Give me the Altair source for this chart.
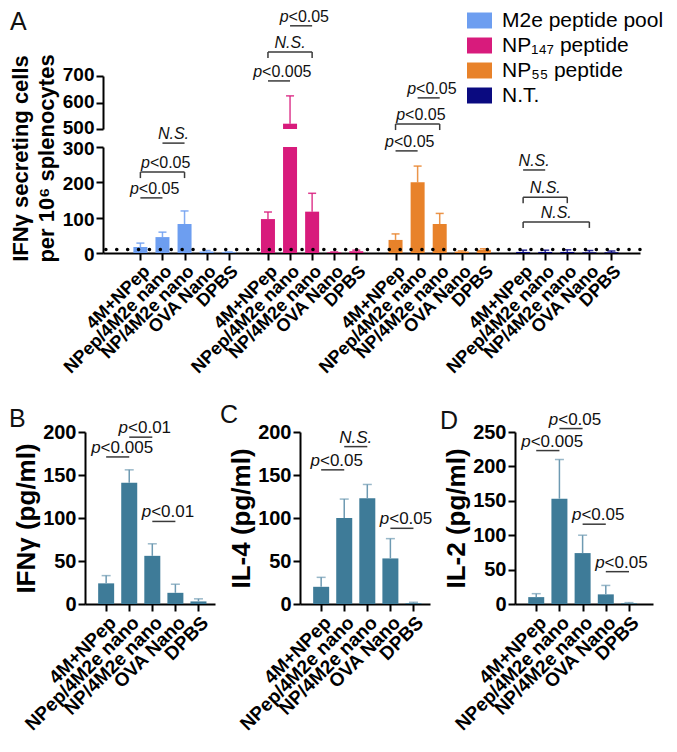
import altair as alt
import pandas as pd

FONT = "Liberation Sans"
INK = "#111111"
ANN = "#3a3a3a"

# ---------------- Panel A data ----------------
series = ["M2e peptide pool", "NP₁₄₇ peptide", "NP₅₅ peptide", "N.T."]
series_colors = ["#6d9ef0", "#d81b7c", "#e8822a", "#0a0a80"]
treatments = ["4M+NPep", "NPep/4M2e nano", "NP/4M2e nano", "OVA Nano", "DPBS"]

m2e_mean = [17, 45, 82, 4, 2]
m2e_upper = [28, 59, 119, 7, 3]
np147_mean = [96, 520, 117, 2, 5]
np147_upper = [116, 625, 169, 3, 8]
np55_mean = [37, 200, 82, 4, 9]
np55_upper = [54, 246, 112, 6, 12]
nt_mean = [3, 3, 3, 2, 2]
nt_upper = [8, 8, 9, 7, 6]
detection_limit = [10]

# annotations of panel A (group, from bar, to bar, level, kind, text)
ann_a_group = [0, 0, 0, 1, 1, 1, 2, 2, 2, 3, 3, 3]
ann_a_from = [0, 0, 1, 0, 0, 1, 1, 0, 0, 0, 0, 0]
ann_a_to = [1, 2, 2, 1, 2, 2, 2, 2, 1, 1, 2, 3]
ann_a_level = [156, 229, 311, 487, 569, 643, 439, 365, 289, 235, 158, 88]
ann_a_kind = ["line", "bracket", "line", "line", "bracket", "line",
              "line", "bracket", "line", "line", "bracket", "bracket"]
ann_a_text = ["p<0.05", "p<0.05", "N.S.", "p<0.005", "N.S.", "p<0.05",
              "p<0.05", "p<0.05", "p<0.05", "N.S.", "N.S.", "N.S."]

# ---------------- Panels B-D data ----------------
ifng_mean = [24, 141, 56, 13, 3]
ifng_upper = [33, 156, 70, 23, 6]
il4_mean = [20, 100, 123, 53, 1]
il4_upper = [31, 122, 139, 76, 2]
il2_mean = [10, 153, 74, 14, 1]
il2_upper = [15, 210, 100, 27, 2]

ann_b = dict(x1=[0, 1, 2], x2=[1, 2, 3], level=[171, 194, 96],
             text=["p<0.005", "p<0.01", "p<0.01"])
ann_c = dict(x1=[0, 1, 3], x2=[1, 2, 4], level=[156, 183, 88],
             text=["p<0.05", "N.S.", "p<0.05"])
ann_d = dict(x1=[0, 1, 2, 3], x2=[1, 2, 3, 4], level=[223, 255, 116, 47],
             text=["p<0.005", "p<0.05", "p<0.05", "p<0.05"])

CYTO_COLOR = "#3e7b98"
CYTO_ERR = "#6e9ab2"

# ---------------- helpers ----------------
SLOT = 9
GROUP_STEP = 52
CHAR_W = {"<": 0.584, "0": 0.556, ".": 0.278, "5": 0.556, "1": 0.556}


def label_expr(index_expr):
    out = "''"
    for i in reversed(range(len(treatments))):
        out = f"({index_expr}) == {i} ? '{treatments[i]}' : {out}"
    return out


def annotation_layers(ann, xs, ys, xa, ya, fs, ppu, leg):
    ann = ann.copy()
    if "kind" not in ann:
        ann["kind"] = "line"
    ann["xc"] = (ann["x1"] + ann["x2"]) / 2
    ann["rest"] = ann["text"].str[1:]
    rest_w = ann["rest"].map(lambda s: sum(CHAR_W.get(c, 0.556) for c in s))
    ann["xa"] = ann["xc"] + (3 + (0.556 - rest_w) / 2 * fs) / ppu
    is_p = ann["text"].str.startswith("p")
    layers = [
        alt.Chart(ann).mark_rule(color=ANN, strokeWidth=1.5).encode(
            x=alt.X("x1:Q", scale=xs, axis=xa), x2="x2:Q",
            y=alt.Y("level:Q", scale=ys, axis=ya))
    ]
    br = ann[ann["kind"] == "bracket"]
    if len(br):
        legs = pd.DataFrame({
            "x": list(br["x1"]) + list(br["x2"]),
            "top": list(br["level"]) * 2,
        })
        legs["bot"] = legs["top"] - leg
        layers.append(alt.Chart(legs).mark_rule(color=ANN, strokeWidth=1.5).encode(
            x=alt.X("x:Q", scale=xs, axis=xa),
            y=alt.Y("top:Q", scale=ys, axis=ya), y2="bot:Q"))
    pdf = ann[is_p]
    if len(pdf):
        layers.append(alt.Chart(pdf).mark_text(
            text="p", font=FONT, fontSize=fs, fontStyle="italic", align="right",
            baseline="alphabetic", dy=-4, color=INK).encode(
            x=alt.X("xa:Q", scale=xs, axis=xa), y=alt.Y("level:Q", scale=ys, axis=ya)))
        layers.append(alt.Chart(pdf).mark_text(
            font=FONT, fontSize=fs, align="left", baseline="alphabetic", dy=-4,
            color=INK).encode(
            x=alt.X("xa:Q", scale=xs, axis=xa), y=alt.Y("level:Q", scale=ys, axis=ya),
            text="rest:N"))
    ndf = ann[~is_p]
    if len(ndf):
        layers.append(alt.Chart(ndf).mark_text(
            font=FONT, fontSize=fs, fontStyle="italic", align="center",
            baseline="alphabetic", dy=-4, color=INK).encode(
            x=alt.X("xc:Q", scale=xs, axis=xa), y=alt.Y("level:Q", scale=ys, axis=ya),
            text="text:N"))
    return layers


def letter(ch, x, y):
    return alt.Chart(pd.DataFrame({"t": [ch]})).mark_text(
        font=FONT, fontSize=25, align="left", baseline="alphabetic", color=INK
    ).encode(text="t:N", x=alt.value(x), y=alt.value(y))


# ---------------- Panel A ----------------
rows = []
for s, (name, means, uppers) in enumerate(zip(
        series, [m2e_mean, np147_mean, np55_mean, nt_mean],
        [m2e_upper, np147_upper, np55_upper, nt_upper])):
    for t in range(len(treatments)):
        rows.append({"series": name, "pos": s * GROUP_STEP + t * SLOT,
                     "mean": means[t], "upper": uppers[t]})
dfA = pd.DataFrame(rows)
positions = [int(p) for p in dfA["pos"]]

xsA = alt.Scale(domain=[-13.2, 201.6], nice=False, zero=False)
ys_low = alt.Scale(domain=[0, 300], nice=False)
ys_up = alt.Scale(domain=[500, 700], nice=False, zero=False)

color = alt.Color("series:N", scale=alt.Scale(domain=series, range=series_colors),
                  legend=alt.Legend(title=None, orient="none", legendX=364, legendY=-68,
                                    symbolType="M-1,-0.64L1,-0.64L1,0.64L-1,0.64Z",
                                    symbolSize=625, symbolStrokeWidth=0, symbolOpacity=1,
                                    labelFontSize=21, labelFont=FONT, labelColor="black",
                                    labelLimit=0, rowPadding=2, labelOffset=10))

x_axis_A = alt.Axis(values=positions, title=None, labelAngle=-45, labelFontSize=18,
                    labelPadding=2, labelOverlap=False,
                    labelExpr=label_expr(f"(datum.value % {GROUP_STEP}) / {SLOT}"))
y_axis_low = alt.Axis(values=[0, 100, 200, 300], labelFontSize=19, labelOffset=1.5,
                      title=["IFNγ secreting cells", "per 10⁶ splenocytes"],
                      titleFontSize=22, titleLineHeight=26, titleX=-71, titleY=11)
y_axis_up = alt.Axis(values=[500, 600, 700], labelFontSize=19, labelOffset=-1.5, title=None)

baseA = alt.Chart(dfA)

bars_low = baseA.transform_calculate(ybar="min(datum.mean, 300)").mark_bar(size=14).encode(
    x=alt.X("pos:Q", scale=xsA, axis=x_axis_A),
    y=alt.Y("ybar:Q", scale=ys_low, axis=y_axis_low),
    color=color)
err_low = baseA.transform_filter("datum.mean <= 300").mark_rule(strokeWidth=1.5, opacity=0.85).encode(
    x=alt.X("pos:Q", scale=xsA, axis=x_axis_A), y=alt.Y("mean:Q", scale=ys_low, axis=y_axis_low),
    y2="upper:Q", color=color)
cap_low = baseA.transform_filter("datum.mean <= 300").mark_tick(
    orient="horizontal", size=8, thickness=1.5, opacity=0.85).encode(
    x=alt.X("pos:Q", scale=xsA, axis=x_axis_A), y=alt.Y("upper:Q", scale=ys_low, axis=y_axis_low),
    color=color)
dots = alt.Chart(pd.DataFrame({"v": detection_limit})).mark_rule(
    color="black", strokeDash=[0.1, 10.8], strokeCap="round", strokeWidth=3.5).encode(
    y=alt.Y("v:Q", scale=ys_low, axis=y_axis_low))

annA = pd.DataFrame({
    "x1": [g * GROUP_STEP + a * SLOT for g, a in zip(ann_a_group, ann_a_from)],
    "x2": [g * GROUP_STEP + b * SLOT for g, b in zip(ann_a_group, ann_a_to)],
    "level": ann_a_level, "kind": ann_a_kind, "text": ann_a_text})

lowerA = alt.layer(bars_low, err_low, cap_low, dots,
                   *annotation_layers(annA, xsA, ys_low, x_axis_A, y_axis_low, 16, 2.5, 17)
                   ).properties(width=537, height=106)

bars_up = baseA.transform_filter("datum.mean > 500").mark_bar(size=14).encode(
    x=alt.X("pos:Q", scale=xsA, axis=None),
    y=alt.Y("mean:Q", scale=ys_up, axis=y_axis_up),
    y2=alt.datum(500), color=color)
err_up = baseA.transform_filter("datum.upper > 500").mark_rule(strokeWidth=1.5, opacity=0.85).encode(
    x=alt.X("pos:Q", scale=xsA, axis=None), y=alt.Y("mean:Q", scale=ys_up, axis=y_axis_up),
    y2="upper:Q", color=color)
cap_up = baseA.transform_filter("datum.upper > 500").mark_tick(
    orient="horizontal", size=8, thickness=1.5, opacity=0.85).encode(
    x=alt.X("pos:Q", scale=xsA, axis=None), y=alt.Y("upper:Q", scale=ys_up, axis=y_axis_up),
    color=color)

upperA = alt.layer(bars_up, err_up, cap_up, letter("A", -93, -46)).properties(
    width=537, height=53)

panelA = alt.vconcat(upperA, lowerA, spacing=18, bounds="flush")

# invisible spacer so that panel A sits a little to the right of panel B
spacer = alt.Chart(pd.DataFrame({"a": [0]})).mark_point(opacity=0).encode(
    x=alt.value(0), y=alt.value(0)).properties(width=1, height=1)
rowA = alt.hconcat(spacer, panelA, spacing=17, bounds="flush").resolve_scale(
    color="independent").resolve_legend(color="independent")


# ---------------- Panels B-D ----------------
def cyto_panel(ch, title, means, uppers, ymax, step, ann, width, lx, ly):
    df = pd.DataFrame({"idx": list(range(len(treatments))), "mean": means, "upper": uppers})
    xs = alt.Scale(domain=[-0.7, -0.7 + width / 25], nice=False, zero=False)
    ys = alt.Scale(domain=[0, ymax], nice=False)
    xaxis = alt.Axis(values=list(range(len(treatments))), title=None, labelAngle=-45,
                     labelFontSize=19, labelPadding=2, labelOverlap=False,
                     labelExpr=label_expr("datum.value"))
    yaxis = alt.Axis(values=list(range(0, ymax + 1, step)), title=title, labelFontSize=20,
                     titleFontSize=26, titlePadding=3)
    base = alt.Chart(df)
    bars = base.mark_bar(size=16, color=CYTO_COLOR).encode(
        x=alt.X("idx:Q", scale=xs, axis=xaxis), y=alt.Y("mean:Q", scale=ys, axis=yaxis))
    err = base.mark_rule(strokeWidth=1.5, color=CYTO_ERR).encode(
        x=alt.X("idx:Q", scale=xs, axis=xaxis), y=alt.Y("mean:Q", scale=ys, axis=yaxis),
        y2="upper:Q")
    cap = base.mark_tick(orient="horizontal", size=9, thickness=1.5, color=CYTO_ERR).encode(
        x=alt.X("idx:Q", scale=xs, axis=xaxis), y=alt.Y("upper:Q", scale=ys, axis=yaxis))
    annl = annotation_layers(pd.DataFrame(ann), xs, ys, xaxis, yaxis, 17, 25, 0)
    return alt.layer(bars, err, cap, *annl, letter(ch, lx, ly)).properties(
        width=width, height=172)


pB = cyto_panel("B", "IFNγ (pg/ml)", ifng_mean, ifng_upper, 200, 50, ann_b, 130, -76, -5)
pC = cyto_panel("C", "IL-4 (pg/ml)", il4_mean, il4_upper, 200, 50, ann_c, 130, -80, -9)
pD = cyto_panel("D", "IL-2 (pg/ml)", il2_mean, il2_upper, 250, 50, ann_d, 138, -75, -3)

bottom = alt.hconcat(pB, pC, pD, spacing=85, bounds="flush")

chart = alt.concat(rowA, bottom, columns=1, align="none", bounds="full", spacing=26).properties(
    padding=0
).configure_view(stroke=None).configure_axis(
    labelFont=FONT, titleFont=FONT, labelColor="black", titleColor="black",
    domainColor="black", tickColor="black", domainWidth=2, tickWidth=2, tickSize=7,
    grid=False, labelFontWeight="bold", titleFontWeight="bold")

chart.save("out.html", embed_options={"renderer": "svg", "actions": False})
